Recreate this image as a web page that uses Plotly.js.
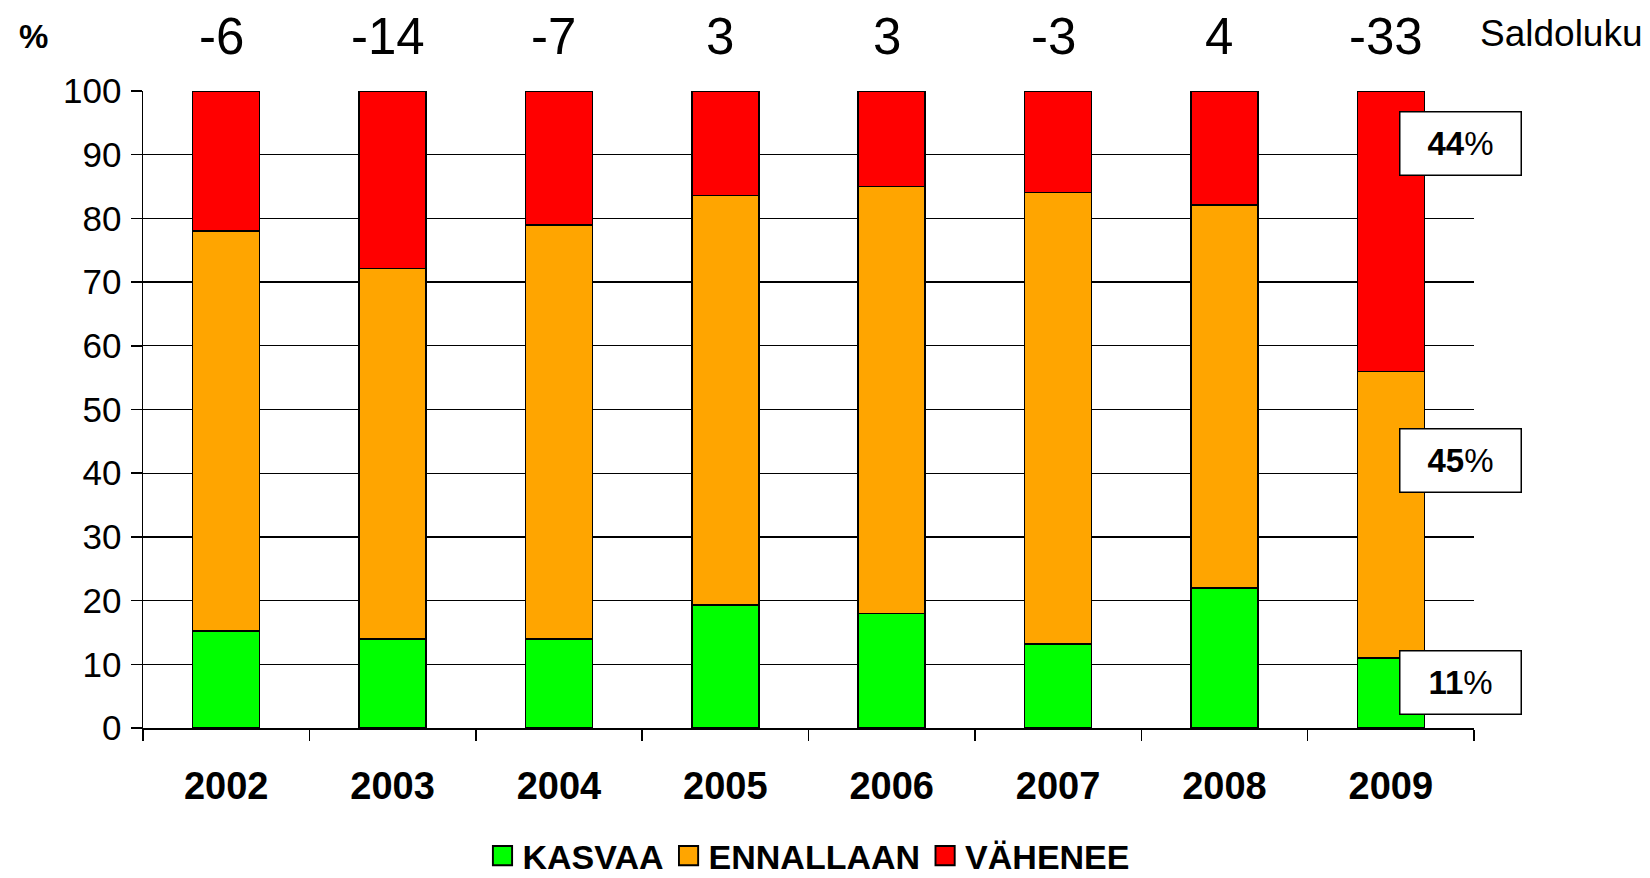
<!DOCTYPE html>
<html>
<head>
<meta charset="utf-8">
<script src="https://cdn.plot.ly/plotly-3.0.1.min.js"></script>
<style>html,body{margin:0;padding:0;background:#fff;}#chart{width:1650px;height:878px;}</style>
</head>
<body>
<div id="chart"></div>
<script>
const years = ['2002','2003','2004','2005','2006','2007','2008','2009'];
const kasvaa = [15.2, 14.0, 14.0, 19.3, 18.0, 13.2, 22.0, 11.0];
const ennallaan = [62.8, 58.1, 65.0, 64.3, 67.0, 70.9, 60.1, 45.0];
const vahenee = [22.0, 27.9, 21.0, 16.4, 15.0, 15.9, 17.9, 44.0];
const saldoluku = ['-6', '-14', '-7', '3', '3', '-3', '4', '-33'];
const seriesNames = ['KASVAA', 'ENNALLAAN', 'VÄHENEE'];
const seriesColors = ['#00ff00', '#ffa500', '#ff0000'];
const lastLabels = ['<b>11</b>%', '<b>45</b>%', '<b>44</b>%'];
const lastLabelY = [7.2, 42.0, 91.8];

const FONT = 'Liberation Sans, Arial, sans-serif';
const seriesData = [kasvaa, ennallaan, vahenee];

const traces = seriesData.map((vals, i) => ({
  type: 'bar',
  name: seriesNames[i],
  x: years,
  y: vals,
  marker: {color: seriesColors[i], line: {color: '#000', width: 1.5}},
  hoverinfo: 'x+y+name'
}));

const annotations = [];
years.forEach((yr, i) => {
  annotations.push({
    x: i, xref: 'x', xshift: -5, y: 1.085, yref: 'paper',
    text: saldoluku[i], showarrow: false,
    xanchor: 'center', yanchor: 'middle',
    font: {family: FONT, size: 51, color: '#000'}
  });
});
annotations.push({
  x: 1, xref: 'paper', xshift: 87, y: 1.09, yref: 'paper',
  text: 'Saldoluku', showarrow: false, xanchor: 'center', yanchor: 'middle',
  font: {family: FONT, size: 37, color: '#000'}
});
annotations.push({
  x: 0, xref: 'paper', xshift: -110, y: 1.085, yref: 'paper',
  text: '<b>%</b>', showarrow: false, xanchor: 'center', yanchor: 'middle',
  font: {family: FONT, size: 33, color: '#000'}
});
lastLabels.forEach((t, i) => {
  annotations.push({
    x: years.length - 1, xref: 'x', xshift: 70, y: lastLabelY[i], yref: 'y',
    text: t, showarrow: false, xanchor: 'center', yanchor: 'middle',
    bgcolor: '#fff', bordercolor: '#000', borderwidth: 1.5, borderpad: 2,
    width: 116, height: 58,
    font: {family: FONT, size: 33, color: '#000'}
  });
});

const layout = {
  width: 1650, height: 878,
  paper_bgcolor: '#fff', plot_bgcolor: '#fff',
  margin: {l: 143, r: 176, t: 91, b: 150},
  barmode: 'stack',
  bargap: 0.597,
  showlegend: true,
  legend: {
    orientation: 'h', x: 0.5, xanchor: 'center',
    yref: 'container', y: 0.025, yanchor: 'middle',
    font: {family: FONT, size: 34, color: '#000', weight: 'bold'},
    itemwidth: 30, tracegroupgap: 0, traceorder: 'normal'
  },
  xaxis: {
    type: 'category',
    range: [-0.5, 7.5], autorange: false,
    showline: true, linecolor: '#000', linewidth: 1.5,
    ticks: 'outside', tickson: 'boundaries', ticklen: 11, tickwidth: 1.5, tickcolor: '#000',
    showgrid: false, zeroline: false,
    tickfont: {family: FONT, size: 38, color: '#000', weight: 'bold'},
    ticklabelstandoff: 24, tickangle: 0
  },
  yaxis: {
    range: [0, 100], dtick: 10, tick0: 0, autorange: false,
    showline: true, linecolor: '#000', linewidth: 1.5,
    ticks: 'outside', ticklen: 11, tickwidth: 1.5, tickcolor: '#000',
    showgrid: true, gridcolor: '#000', gridwidth: 1.3,
    zeroline: false,
    tickfont: {family: FONT, size: 35, color: '#000'},
    ticklabelstandoff: 2
  },
  annotations: annotations
};

Plotly.newPlot('chart', traces, layout, {displayModeBar: false, staticPlot: true}).then(gd => {
  gd.querySelectorAll('.legendpoints path').forEach(p => {
    const t = p.getAttribute('transform') || '';
    p.setAttribute('transform', t + ' scale(1.6)');
    p.style.strokeWidth = '1.2px';
  });
});
</script>
</body>
</html>
